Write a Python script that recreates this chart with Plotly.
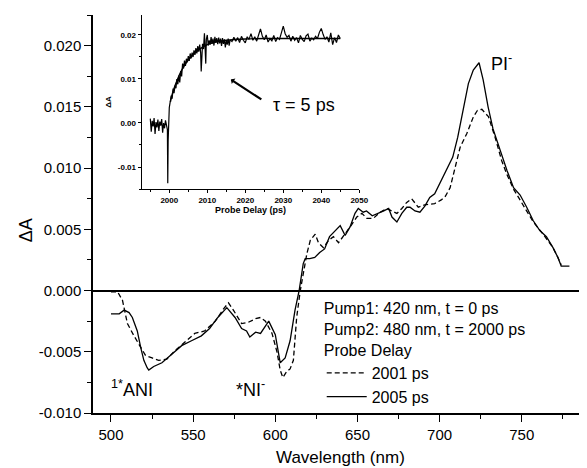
import plotly.graph_objects as go

# ---------------- main spectra ----------------
wl_2005 = [500, 505, 508, 511, 513, 516, 518, 520, 522, 523, 526, 531, 537, 543, 549, 555, 560, 565,
           570.5, 575.5, 579.5, 582.5, 584.5, 588, 591, 596, 600, 603, 606, 609, 612, 614.5, 617, 618.2,
           621, 624, 627, 630, 633, 636.5, 639.5, 642.5, 645.5, 648.5, 650.5, 653.5, 655.5, 659, 663,
           666, 669, 671, 674, 677, 680, 682, 685, 688, 691, 694, 697, 700, 704, 708, 711, 714.5, 717.5,
           720.5, 724, 726.5, 729.5, 732.5, 737, 741, 745, 749, 753, 757, 761, 765, 769, 772, 774, 779]
dA_2005 = [-0.0019, -0.0019, -0.0016, -0.0018, -0.0022, -0.0033, -0.0046, -0.0057, -0.0063, -0.0065,
           -0.0062, -0.0059, -0.0052, -0.0045, -0.0041, -0.0037, -0.0031, -0.0022, -0.0014, -0.0022,
           -0.0031, -0.0033, -0.0038, -0.0034, -0.0035, -0.0025, -0.0036, -0.0059, -0.0055, -0.0041,
           -0.0016, 0.0000, 0.0022, 0.0026, 0.0026, 0.0027, 0.0031, 0.0034, 0.0044, 0.0049, 0.0053,
           0.0045, 0.0052, 0.0063, 0.0067, 0.0064, 0.0065, 0.0061, 0.0063, 0.0065, 0.0067, 0.0060,
           0.0056, 0.0063, 0.0068, 0.0068, 0.0065, 0.0064, 0.0069, 0.0076, 0.0079, 0.0087, 0.0098,
           0.0109, 0.0125, 0.0150, 0.0169, 0.0180, 0.0186, 0.0172, 0.0150, 0.0132, 0.0114, 0.0098,
           0.0084, 0.0078, 0.0068, 0.0057, 0.0049, 0.0044, 0.0035, 0.0027, 0.0020, 0.0020]

wl_2001 = [500, 504, 507, 510, 514, 518, 521, 525, 529, 534, 539, 545, 551, 557, 563.5, 568.5, 571.5,
           574.5, 579.5, 583.5, 588, 591, 594, 598, 601, 603, 604.6, 607, 609, 611, 613, 615.2, 616.2,
           617.5, 619.2, 621.3, 624.3, 626.3, 629.3, 632.4, 635.4, 638.5, 642.5, 646.6, 649.6, 652.7,
           655.7, 659.7, 663.8, 667.9, 670.9, 674, 677, 680, 683, 687, 691, 697, 701, 703.5, 706.4,
           709.4, 712.5, 716.5, 720.6, 723, 725.7, 729.7, 733.8, 737.8, 740.9, 744.9, 748.9, 754, 757,
           763, 769, 772, 774]
dA_2001 = [-0.0001, -0.0001, -0.0008, -0.0027, -0.0037, -0.0046, -0.0053, -0.0055, -0.0057, -0.0056,
           -0.0049, -0.0042, -0.0035, -0.0033, -0.0025, -0.0015, -0.0010, -0.0016, -0.0027, -0.0026,
           -0.0023, -0.0022, -0.0025, -0.0035, -0.0050, -0.0065, -0.0071, -0.0066, -0.0064, -0.0057,
           -0.0022, 0.0000, 0.0008, 0.0018, 0.0030, 0.0041, 0.0046, 0.0039, 0.0035, 0.0041, 0.0044,
           0.0039, 0.0046, 0.0054, 0.0060, 0.0063, 0.0059, 0.0059, 0.0064, 0.0067, 0.0065, 0.0063,
           0.0067, 0.0072, 0.0075, 0.0068, 0.0070, 0.0071, 0.0074, 0.0077, 0.0084, 0.0101, 0.0117,
           0.0128, 0.0142, 0.0147, 0.0148, 0.0142, 0.0125, 0.0106, 0.0095, 0.0083, 0.0074, 0.0063,
           0.0056, 0.0046, 0.0035, 0.0027, 0.0021]

# ---------------- inset kinetics ----------------
t_kin = [1995.0, 1995.25, 1995.5, 1995.75, 1996.0, 1996.25, 1996.5, 1996.75, 1997.0, 1997.25, 1997.5,
         1997.75, 1998.0, 1998.25, 1998.5, 1998.75, 1999.0, 1999.25, 1999.5, 1999.6, 1999.7, 2000.0,
         2000.25, 2000.5, 2000.75, 2001.0, 2001.25, 2001.5, 2001.75, 2002.0, 2002.25, 2002.5, 2002.75,
         2003.0, 2003.25, 2003.5, 2003.75, 2004.0, 2004.25, 2004.5, 2004.75, 2005.0, 2005.25, 2005.5,
         2005.75, 2006.0, 2006.25, 2006.5, 2006.75, 2007.0, 2007.25, 2007.5, 2007.75, 2008.0, 2008.25,
         2008.4, 2008.75, 2009.0, 2009.25, 2009.5, 2009.6, 2009.75, 2010.0, 2010.25, 2010.5, 2010.75,
         2011.0, 2011.25, 2011.5, 2011.75, 2012.0, 2012.25, 2012.5, 2012.75, 2013.0, 2013.25, 2013.5,
         2013.75, 2014.0, 2014.25, 2014.5, 2014.75, 2015.0, 2015.25, 2015.5, 2015.75, 2016.0,
         2016.5, 2017.0, 2017.5, 2018.0, 2018.5, 2019.0, 2019.5, 2020.0, 2020.5, 2021.0, 2021.5,
         2022.0, 2022.5, 2023.0, 2023.5, 2024.0, 2024.5, 2025.0, 2025.5, 2026.0, 2026.5, 2027.0,
         2027.5, 2028.0, 2028.5, 2029.0, 2029.5, 2030.0, 2030.5, 2031.0, 2031.5, 2032.0, 2032.5,
         2033.0, 2033.5, 2034.0, 2034.5, 2035.0, 2035.5, 2036.0, 2036.5, 2037.0, 2037.5, 2038.0,
         2038.5, 2039.0, 2039.5, 2040.0, 2040.5, 2041.0, 2041.5, 2042.0, 2042.5, 2043.0, 2043.5,
         2044.0, 2044.5, 2045.0]
dA_kin = [0.0010, -0.0020, 0.0005, -0.0008, 0.0011, -0.0025, 0.0002, -0.0010, 0.0008, -0.0018, 0.0003,
          -0.0006, 0.0009, -0.0022, 0.0000, -0.0012, 0.0006, -0.0004, -0.0015, -0.0137, -0.0040, 0.0035,
          0.0048, 0.0062, 0.0055, 0.0078, 0.0068, 0.0085, 0.0079, 0.0100, 0.0088, 0.0108, 0.0092,
          0.0118, 0.0106, 0.0135, 0.0124, 0.0142, 0.0130, 0.0146, 0.0138, 0.0152, 0.0141, 0.0158,
          0.0147, 0.0160, 0.0150, 0.0165, 0.0155, 0.0170, 0.0158, 0.0175, 0.0162, 0.0178, 0.0160,
          0.0117, 0.0180, 0.0168, 0.0204, 0.0172, 0.0135, 0.0190, 0.0200, 0.0176, 0.0188, 0.0178,
          0.0195, 0.0180, 0.0192, 0.0176, 0.0196, 0.0182, 0.0193, 0.0179, 0.0194, 0.0181, 0.0192,
          0.0175, 0.0193, 0.0180, 0.0190, 0.0172, 0.0188, 0.0178, 0.0192, 0.0176, 0.0189,
          0.0185, 0.0195, 0.0186, 0.0194, 0.0183, 0.0197, 0.0188, 0.0182, 0.0196, 0.0190, 0.0203,
          0.0188, 0.0196, 0.0186, 0.0200, 0.0214, 0.0197, 0.0189, 0.0200, 0.0184, 0.0192, 0.0187,
          0.0199, 0.0185, 0.0194, 0.0190, 0.0205, 0.0220, 0.0203, 0.0195, 0.0199, 0.0186, 0.0197,
          0.0188, 0.0194, 0.0182, 0.0199, 0.0190, 0.0185, 0.0198, 0.0202, 0.0186, 0.0193, 0.0189,
          0.0197, 0.0192, 0.0206, 0.0215, 0.0201, 0.0190, 0.0196, 0.0184, 0.0205, 0.0178, 0.0194,
          0.0183, 0.0200, 0.0192]

t_fit = [2000.3, 2001, 2002, 2003, 2004, 2005, 2006, 2008, 2010, 2012, 2015, 2020, 2025, 2030, 2035, 2040, 2045]
dA_fit = [0.0048, 0.0072, 0.0096, 0.0116, 0.0131, 0.0143, 0.0153, 0.0168, 0.0178, 0.0184, 0.0188,
          0.0191, 0.0192, 0.0192, 0.0192, 0.0192, 0.0192]

FONT = "Liberation Sans, Arial, sans-serif"

fig = go.Figure()
fig.add_trace(go.Scatter(x=wl_2001, y=dA_2001, mode="lines", name="2001 ps",
                         line=dict(color="black", width=1.3, dash="5px,3px")))
fig.add_trace(go.Scatter(x=wl_2005, y=dA_2005, mode="lines", name="2005 ps",
                         line=dict(color="black", width=1.3)))
fig.add_trace(go.Scatter(x=t_kin, y=dA_kin, mode="lines", xaxis="x2", yaxis="y2", showlegend=False,
                         line=dict(color="black", width=1.2)))
fig.add_trace(go.Scatter(x=t_fit, y=dA_fit, mode="lines", xaxis="x2", yaxis="y2", showlegend=False,
                         line=dict(color="black", width=1.4, shape="spline")))

# the page body has an 8px margin, so the figure is sized to end at the window edge
fig.update_layout(
    width=579, height=460,
    margin=dict(l=85, r=0, t=7, b=55),
    paper_bgcolor="white", plot_bgcolor="white",
    font=dict(family=FONT, color="black"),
    showlegend=True,
    legend=dict(x=0.463, y=0.30, xanchor="left", yanchor="top",
                bgcolor="rgba(0,0,0,0)", font=dict(size=16, family=FONT),
                title=dict(text="Pump1: 420 nm, t = 0 ps<br>Pump2: 480 nm, t = 2000 ps<br>Probe Delay",
                           font=dict(size=16, family=FONT)),
                tracegroupgap=0, itemwidth=40),
    xaxis=dict(range=[489.05, 789.7], automargin=False, showgrid=False, zeroline=False, showline=True,
               linecolor="black", linewidth=1.5, ticks="outside", ticklen=7, tickwidth=1.2,
               tickcolor="black", tick0=500, dtick=50, tickfont=dict(size=15),
               minor=dict(ticks="outside", ticklen=4, dtick=25, tickcolor="black", tickwidth=1)),
    yaxis=dict(range=[-0.010, 0.0225], automargin=False, showgrid=False, zeroline=True,
               zerolinecolor="black", zerolinewidth=1.6, showline=True, linecolor="black", linewidth=1.5,
               ticks="outside", ticklen=7, tickwidth=1.2, tickcolor="black",
               tickvals=[-0.010, -0.005, 0.000, 0.005, 0.010, 0.015, 0.020],
               ticktext=["-0.010", "-0.005", "0.000", "0.005", "0.010", "0.015", "0.020"],
               tickfont=dict(size=15),
               minor=dict(ticks="outside", ticklen=4, dtick=0.0025, tickcolor="black", tickwidth=1)),
    xaxis2=dict(domain=[0.0986, 0.539], anchor="y2", automargin=False, range=[1992.74, 2050],
                showgrid=False, zeroline=False, showline=True, linecolor="black", linewidth=1.2,
                ticks="outside", ticklen=3, tickcolor="black", dtick=10, tick0=2000,
                tickfont=dict(size=8, weight="bold"),
                minor=dict(ticks="outside", ticklen=2, dtick=5, tickcolor="black"),
                title=dict(text="Probe Delay (ps)", font=dict(size=9, weight="bold"), standoff=2)),
    yaxis2=dict(domain=[0.5628, 0.9995], anchor="x2", automargin=False, range=[-0.015, 0.0245],
                showgrid=False, zeroline=False, showline=True, linecolor="black", linewidth=1.2,
                ticks="outside", ticklen=3, tickcolor="black",
                tickvals=[-0.01, 0.0, 0.01, 0.02], ticktext=["-0.01", "0.00", "0.01", "0.02"],
                tickfont=dict(size=8, weight="bold"),
                minor=dict(ticks="outside", ticklen=2, dtick=0.005, tickcolor="black"),
                title=dict(text="ΔA", font=dict(size=8, weight="bold"), standoff=4)),
)

annotations = [
    dict(text="Wavelength (nm)", xref="paper", yref="paper", x=0.5, y=-0.1106, xanchor="center",
         yanchor="middle", showarrow=False, font=dict(size=17)),
    dict(text="ΔA", xref="paper", yref="paper", x=-0.135, y=0.46, xanchor="center", yanchor="middle",
         textangle=-90, showarrow=False, font=dict(size=18)),
    dict(text="PI<sup>-</sup>", xref="x", yref="y", x=737.4, y=0.0186, showarrow=False,
         font=dict(size=18)),
    dict(text="<sup>1*</sup>ANI", xref="x", yref="y", x=512.8, y=-0.0080, showarrow=False,
         font=dict(size=18)),
    dict(text="*NI<sup>-</sup>", xref="x", yref="y", x=585.2, y=-0.0080, showarrow=False,
         font=dict(size=18)),
    dict(text="τ = 5 ps", xref="x2", yref="y2", x=2035.4, y=0.0041, showarrow=False,
         font=dict(size=18)),
    dict(text="", xref="x2", yref="y2", x=2016.2, y=0.0099, ax=32, ay=21, axref="pixel",
         ayref="pixel", showarrow=True, arrowhead=1, arrowsize=0.5, arrowwidth=2.2,
         arrowcolor="black"),
]
fig.update_layout(annotations=annotations)

fig.write_html("out.html")
